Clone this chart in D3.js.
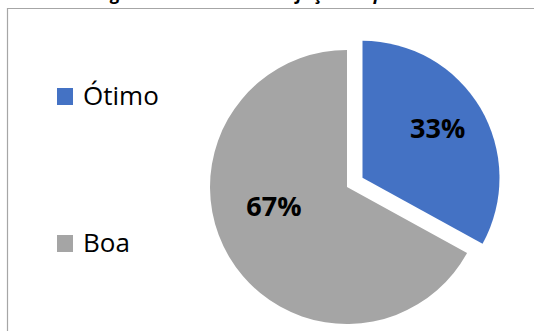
<!DOCTYPE html>
<html>
<head>
<meta charset="utf-8">
<script src="https://cdn.jsdelivr.net/npm/d3@7"></script>
<style>
  html, body { margin: 0; padding: 0; background: #fff; }
  svg { display: block; }
</style>
</head>
<body>
<div id="chart"></div>
<script>
// Pie chart: Ótimo vs Boa
const categories = ["Ótimo", "Boa"];
const values = [33, 67];
const colors = ["#4472C4", "#A5A5A5"];
const titleText = "Figura 5 – Nível de satisfação de pessoal";

const width = 534, height = 331;
const radius = 137;
const cx = 347, cy = 187;
const explode = 18;

const svg = d3.select("#chart").append("svg")
    .attr("width", width)
    .attr("height", height);

// title, mostly cut off at the top like in the original crop
svg.append("text")
    .attr("x", 267)
    .attr("y", 0)
    .attr("text-anchor", "middle")
    .attr("font-family", "Open Sans")
    .attr("font-weight", "bold")
    .attr("font-style", "italic")
    .attr("font-size", 18)
    .attr("fill", "#000")
    .text(titleText);

// chart area border (right and bottom fall outside)
svg.append("path")
    .attr("d", `M7.5,${height + 2}V8.5H${width + 2}`)
    .attr("fill", "none")
    .attr("stroke", "#a6a6a6")
    .attr("stroke-width", 1.2);

const pie = d3.pie().sort(null).value(d => d.value);
const arcs = pie(categories.map((c, i) => ({ name: c, value: values[i], color: colors[i] })));

const arc = d3.arc().innerRadius(0).outerRadius(radius);
const labelArc = d3.arc().innerRadius(radius * 0.62).outerRadius(radius * 0.62);

const g = svg.append("g").attr("transform", `translate(${cx},${cy})`);

// only the first slice (Ótimo) is pulled out
const offset = (d, i) => {
    if (i !== 0) return [0, 0];
    const a = (d.startAngle + d.endAngle) / 2;
    return [Math.sin(a) * explode, -Math.cos(a) * explode];
};

const slices = g.selectAll("g.slice")
    .data(arcs)
    .join("g")
    .attr("class", "slice")
    .attr("transform", (d, i) => `translate(${offset(d, i)})`);

slices.append("path")
    .attr("d", arc)
    .attr("fill", d => d.data.color);

// best-fit nudges, like Excel puts them
const nudge = [[2, -6], [0, -24]];

slices.append("text")
    .attr("transform", (d, i) => {
        const [x, y] = labelArc.centroid(d);
        return `translate(${x + nudge[i][0]},${y + nudge[i][1]})`;
    })
    .attr("text-anchor", "middle")
    .attr("dy", "0.36em")
    .attr("font-family", "Open Sans")
    .attr("font-weight", "bold")
    .attr("font-size", 27)
    .attr("fill", "#000")
    .text(d => Math.round(d.value / d3.sum(values) * 100) + "%");

// legend
const legendY = d3.scalePoint().domain(categories).range([96, 243]);

const legend = svg.append("g")
    .selectAll("g")
    .data(categories)
    .join("g")
    .attr("transform", d => `translate(57,${legendY(d)})`);

legend.append("rect")
    .attr("x", 0)
    .attr("y", -8)
    .attr("width", 16)
    .attr("height", 17)
    .attr("fill", (d, i) => colors[i]);

legend.append("text")
    .attr("x", 26)
    .attr("y", 9)
    .attr("font-family", "Open Sans")
    .attr("font-size", 26)
    .attr("fill", "#000")
    .text(d => d);
</script>
</body>
</html>
